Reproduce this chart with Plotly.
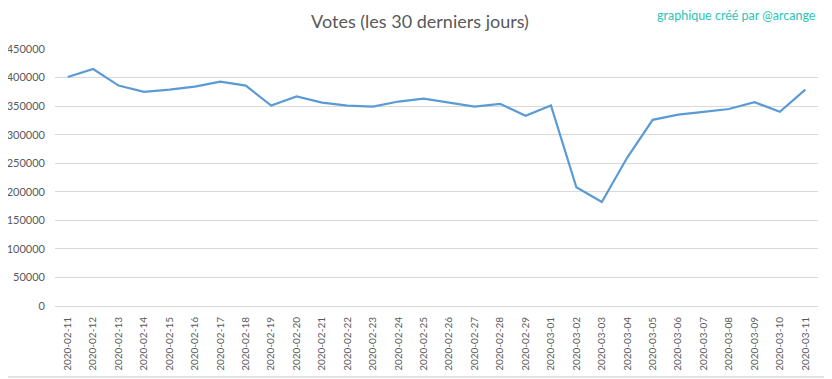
import plotly.graph_objects as go

dates = ["2020-02-11", "2020-02-12", "2020-02-13", "2020-02-14", "2020-02-15",
         "2020-02-16", "2020-02-17", "2020-02-18", "2020-02-19", "2020-02-20",
         "2020-02-21", "2020-02-22", "2020-02-23", "2020-02-24", "2020-02-25",
         "2020-02-26", "2020-02-27", "2020-02-28", "2020-02-29", "2020-03-01",
         "2020-03-02", "2020-03-03", "2020-03-04", "2020-03-05", "2020-03-06",
         "2020-03-07", "2020-03-08", "2020-03-09", "2020-03-10", "2020-03-11"]
votes = [401000, 415000, 386000, 375000, 379000, 384000, 393000, 386000, 351000, 367000,
         356000, 351000, 349000, 358000, 363000, 356000, 349000, 354000, 333000, 351000,
         208000, 182000, 260000, 326000, 335000, 340000, 345000, 357000, 340000, 379000]
y_ticks = [0, 50000, 100000, 150000, 200000, 250000, 300000, 350000, 400000, 450000]

# page body has an 8px margin: figure is sized/offset to compensate
W, H = 824, 371
L, R, T, B = 47, 14, 41, 73
PW, PH = W - L - R, H - T - B

fig = go.Figure()
fig.add_trace(go.Scatter(x=dates, y=votes, mode="lines",
                         line=dict(color="#5b9bd5", width=2.2)))

fig.update_layout(
    width=W, height=H,
    margin=dict(l=L, r=R, t=T, b=B, autoexpand=False),
    paper_bgcolor="white", plot_bgcolor="white",
    showlegend=False,
    font=dict(family="Lato, Open Sans, sans-serif", color="#595959", size=11),
    title=dict(text="Votes (les 30 derniers jours)", x=0.5, xanchor="center",
               y=1 - 14 / H, yanchor="middle",
               font=dict(size=18, color="#595959", family="Lato, Open Sans, sans-serif")),
    annotations=[dict(text="graphique créé par @arcange", xref="paper", yref="paper",
                      x=1.0, y=1.0, yshift=34, xanchor="right", yanchor="middle",
                      showarrow=False,
                      font=dict(size=12.5, color="#2ec4b6", family="Lato, Open Sans, sans-serif"))],
    shapes=[
        dict(type="line", xref="paper", yref="paper",
             x0=1 + 10 / PW, x1=1 + 10 / PW, y0=-71 / PH, y1=1 + T / PH + 1,
             line=dict(color="#d9d9d9", width=1.5), layer="below"),
        dict(type="line", xref="paper", yref="paper",
             x0=-L / PW - 1, x1=1 + 10 / PW, y0=-71 / PH, y1=-71 / PH,
             line=dict(color="#d9d9d9", width=1.5), layer="below"),
    ],
)

fig.update_xaxes(type="category", range=[-0.5, len(dates) - 0.5], tickangle=-90,
                 showgrid=False, showline=False, automargin=False,
                 ticks="", ticklabelstandoff=8, zeroline=False,
                 tickfont=dict(size=10, color="#595959"))
fig.update_yaxes(range=[0, 450000], tickvals=y_ticks, ticktext=[str(v) for v in y_ticks],
                 showgrid=True, gridcolor="#d9d9d9", gridwidth=1, zeroline=True,
                 zerolinecolor="#d9d9d9", zerolinewidth=1, showline=False,
                 ticks="", ticklabelstandoff=9, automargin=False,
                 tickfont=dict(size=11, color="#595959"))

fig.write_html("out.html")
